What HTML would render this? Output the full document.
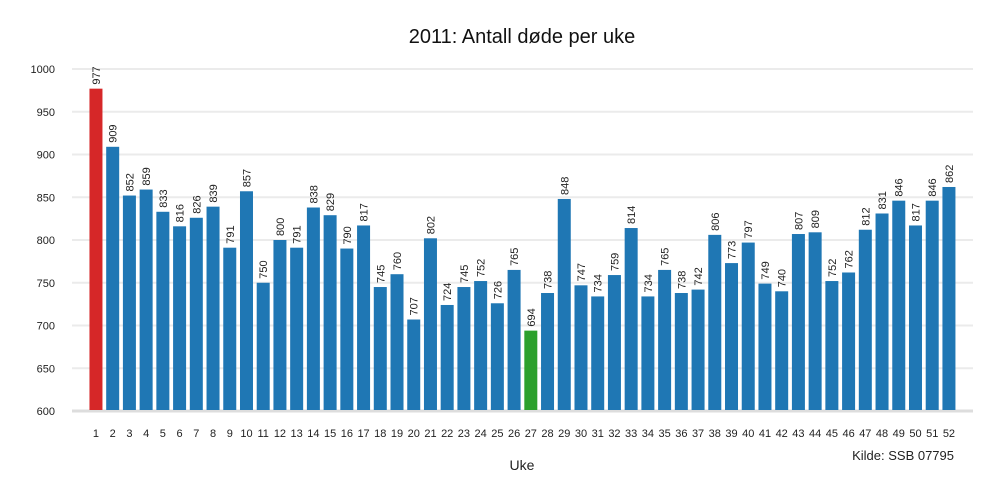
<!DOCTYPE html>
<html><head><meta charset="utf-8"><style>
body{margin:0;background:#fff;}
svg{display:block;font-family:"Liberation Sans","DejaVu Sans",sans-serif;}
</style></head><body>
<svg id="chart" width="1000" height="500">
<text x="522" y="43" font-size="20" text-anchor="middle" fill="#111">2011: Antall døde per uke</text>
<g id="grid"></g><g id="bars"></g><g id="labels"></g><g id="xt"></g>
<text x="522" y="470" font-size="14" text-anchor="middle" fill="#222">Uke</text>
<text x="954" y="460" font-size="13" text-anchor="end" fill="#222">Kilde: SSB 07795</text>
</svg>
<script>
const weeks = Array.from({length:52},(_,i)=>String(i+1));
const deaths = [977,909,852,859,833,816,826,839,791,857,750,800,791,838,829,790,817,745,760,707,802,724,745,752,726,765,694,738,848,747,734,759,814,734,765,738,742,806,773,797,749,740,807,809,752,762,812,831,846,817,846,862];
const yTicks = [600,650,700,750,800,850,900,950,1000];
const highlightMax = "1", highlightMin = "27";
const NS="http://www.w3.org/2000/svg";
const y0=600,y1=1000,py0=411,py1=69;
const y=v=>py0+(v-y0)*(py1-py0)/(y1-y0);
const bandStart=87.6,band=16.725;
const xc=i=>bandStart+(i+0.5)*band;
function mk(t,a,p){const e=document.createElementNS(NS,t);for(const k in a)e.setAttribute(k,a[k]);p.appendChild(e);return e;}
const grid=document.getElementById('grid');
yTicks.forEach(v=>{
  const l=mk('line',{x1:72,x2:973,y1:y(v),y2:y(v),stroke:v===600?'#ddd':'#ebebeb','stroke-width':v===600?3:2},grid);
  
  
  const t=mk('text',{x:55,y:y(v)+4,'font-size':11,'text-anchor':'end',fill:'#222'},grid);
  t.textContent=v;
  
  
});
const bars=document.getElementById('bars'),labels=document.getElementById('labels'),xt=document.getElementById('xt');
weeks.forEach((w,i)=>{
  const v=deaths[i];
  const col=w===highlightMax?'#d62728':(w===highlightMin?'#2ca02c':'#1f77b4');
  const r=mk('rect',{x:xc(i)-6.5,y:y(v),width:13,height:py0-1-y(v),fill:col},bars);
  
  
  const lx=xc(i)+4,ly=y(v)-4;
  const t=mk('text',{x:lx,y:ly,'font-size':11,fill:'#222',transform:`rotate(-90 ${lx} ${ly})`},labels);
  t.textContent=v;
  
  
  const k=mk('text',{x:xc(i),y:437,'font-size':11,'text-anchor':'middle',fill:'#222'},xt);
  k.textContent=w;
  
  
});
</script>
</body></html>
